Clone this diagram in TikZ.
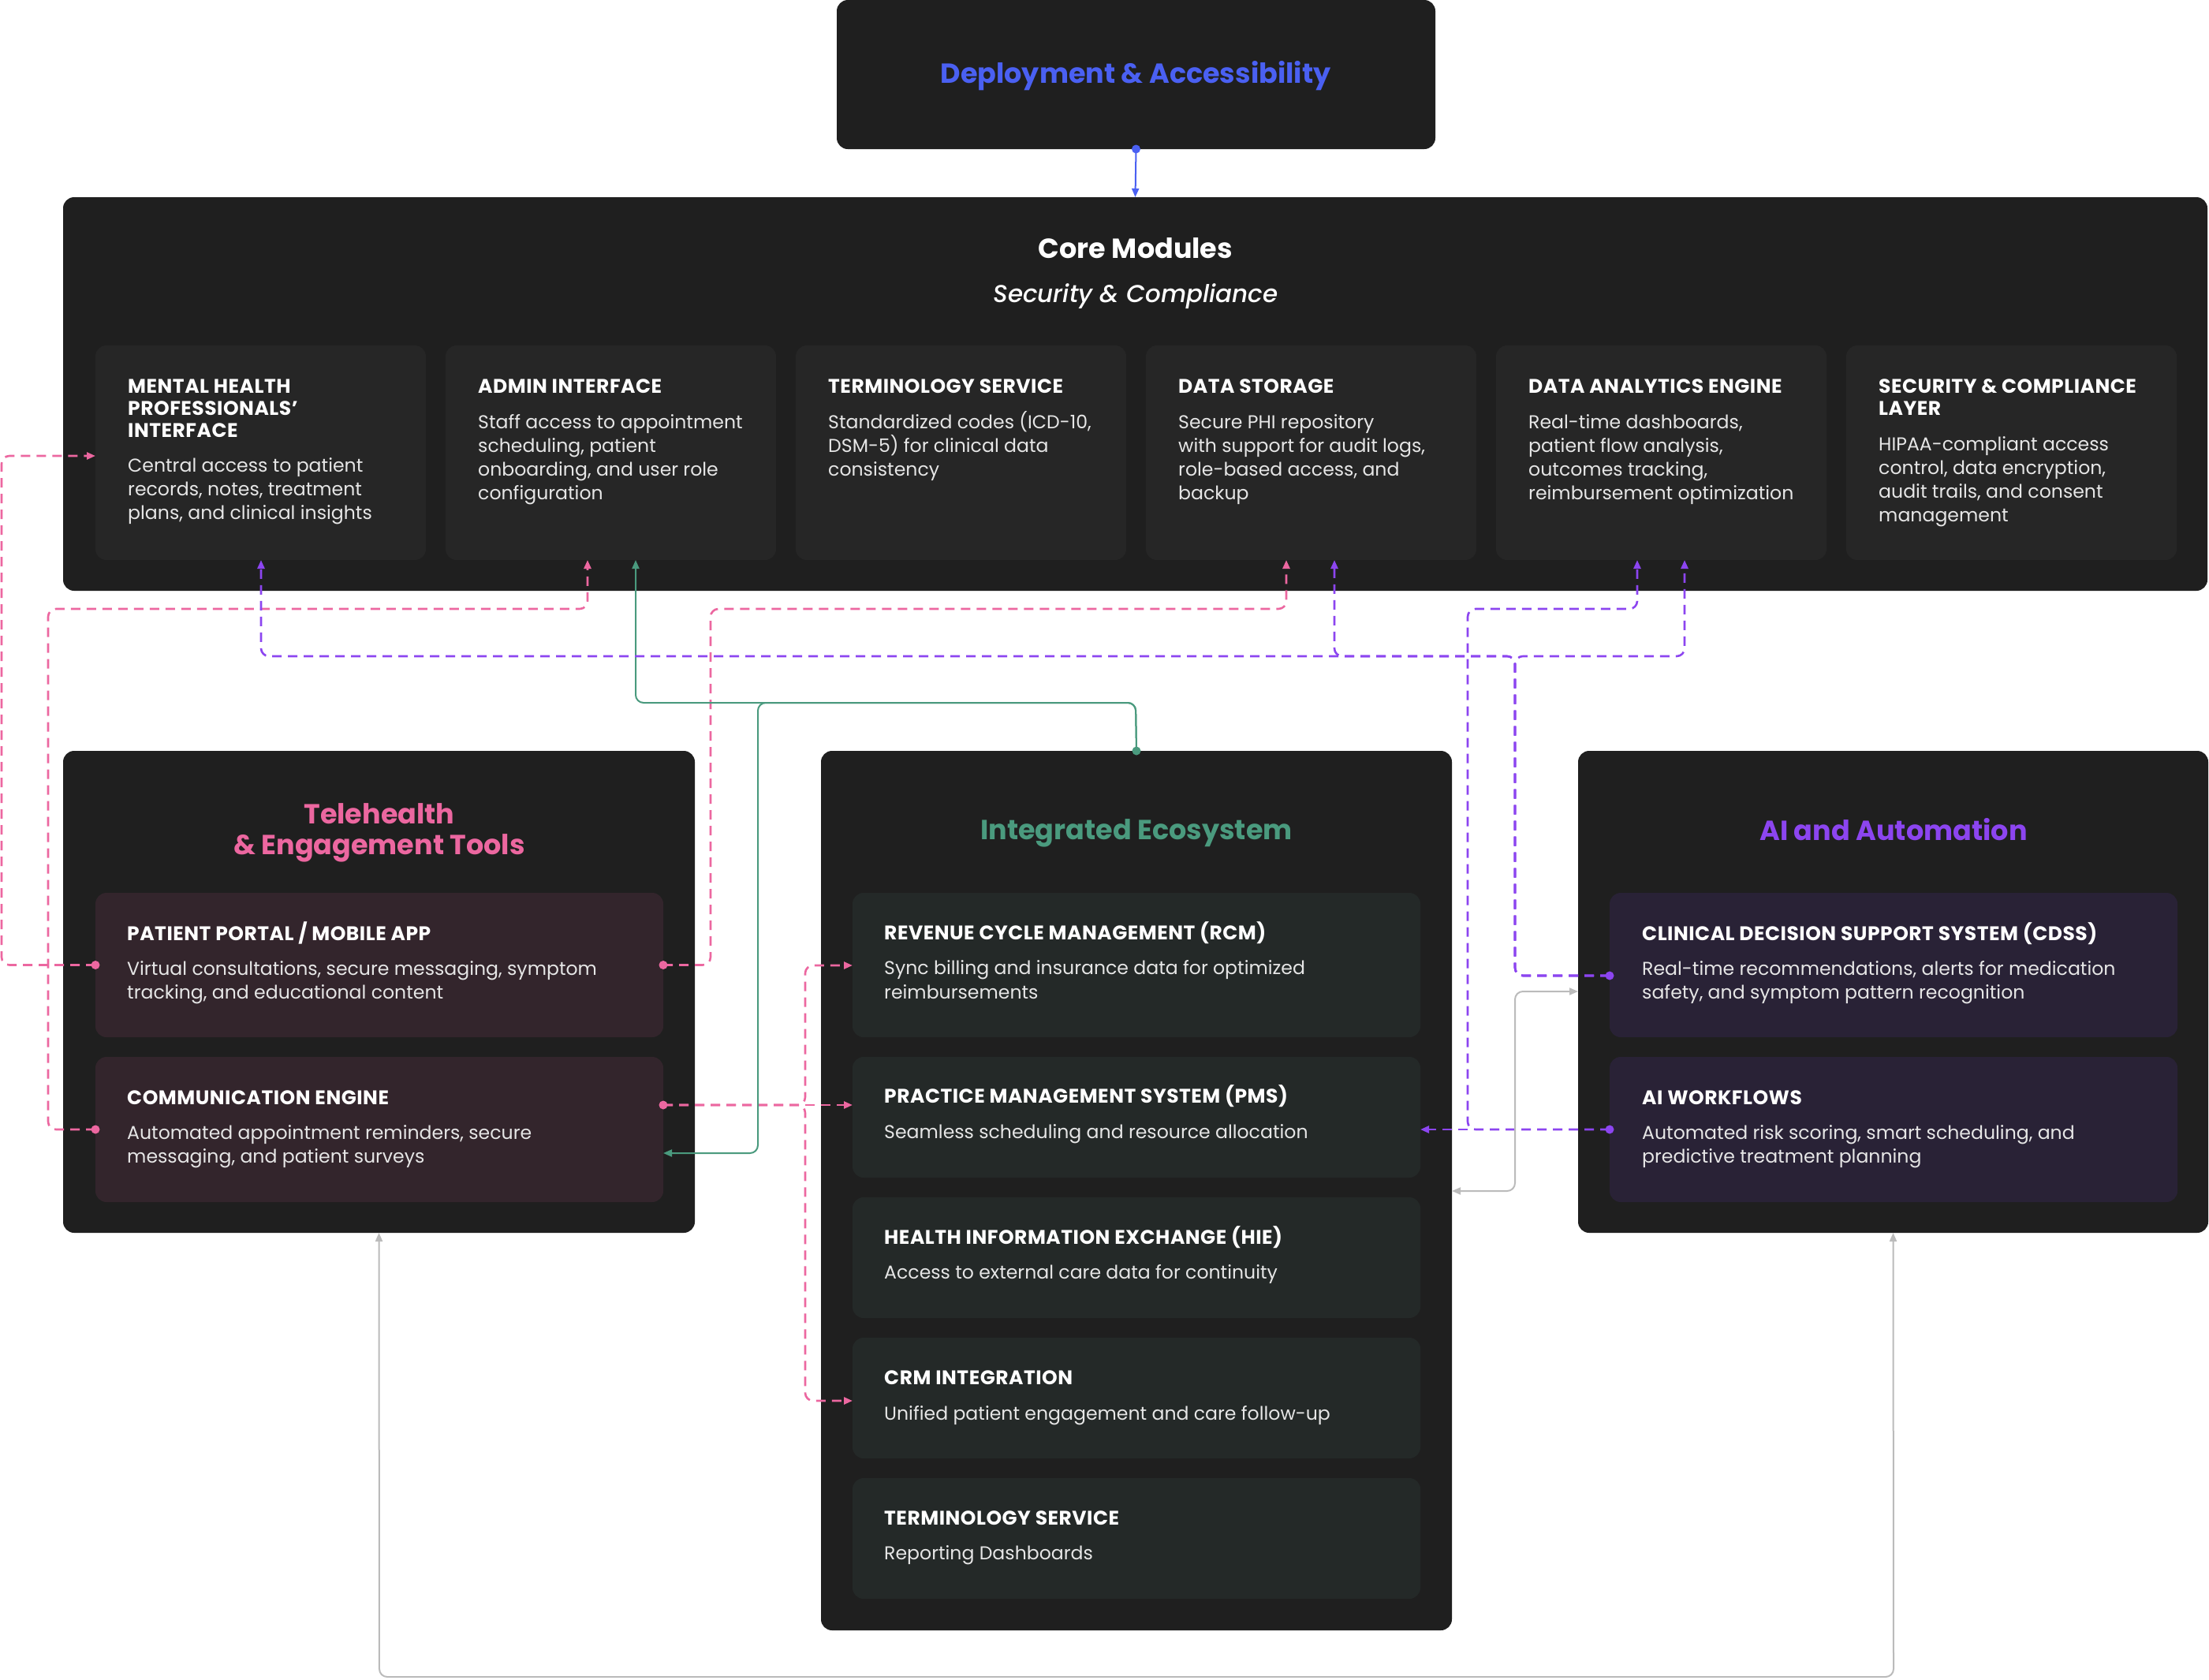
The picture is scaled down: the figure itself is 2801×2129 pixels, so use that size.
\documentclass[tikz,border=0pt]{standalone}
\usepackage{fontspec}
\setmainfont{Poppins}
\newfontfamily\pmedit{Poppins Medium Italic}
\usetikzlibrary{arrows.meta}
\definecolor{panelbg}{HTML}{1F1F1F}
\definecolor{corecard}{HTML}{262626}
\definecolor{telecard}{HTML}{33252C}
\definecolor{ecocard}{HTML}{242928}
\definecolor{aicard}{HTML}{292236}
\definecolor{cblue}{HTML}{4A60F2}
\definecolor{cpink}{HTML}{EC67A0}
\definecolor{cgreen}{HTML}{4A9A7E}
\definecolor{cpurple}{HTML}{8C45F0}
\definecolor{cgray}{HTML}{BBBBBB}
\definecolor{desctext}{HTML}{E6E6E6}
\newcommand\textblock[6]{%
  \foreach \l [count=\i from 0] in {#6} {
    \node[#5, anchor=base west] (#1-\i) at (#2, #3+\i*#4) {\l};
  }}
\tikzset{
  panel/.style={fill=panelbg, rounded corners=14pt, inner sep=0, outer sep=0, anchor=north west},
  card/.style={rounded corners=14pt, inner sep=0, outer sep=0, anchor=north west},
  corehead/.style={font=\bfseries\addfontfeatures{LetterSpace=2}\fontsize{25}{28}\selectfont, text=white, inner sep=0},
  coredesc/.style={font=\fontsize{23.6}{30}\selectfont, text=desctext, inner sep=0},
  lowhead/.style={font=\bfseries\addfontfeatures{LetterSpace=2}\fontsize{25}{28}\selectfont, text=white, inner sep=0},
  lowdesc/.style={font=\fontsize{23.6}{30}\selectfont, text=desctext, inner sep=0},
  title/.style={font=\bfseries\fontsize{35}{40}\selectfont, inner sep=0, anchor=base},
  conn/.style={line width=2pt, rounded corners=10pt},
  dashline/.style={conn, line width=2.6pt, dash pattern=on 12pt off 8pt},
  tip/.style={-{Triangle[length=11pt,width=9pt]}},
  dtip/.style={{Triangle[length=11pt,width=9pt]}-{Triangle[length=11pt,width=9pt]}},
}
\begin{document}
\begin{tikzpicture}[x=1pt,y=-1pt]
\useasboundingbox[fill=white] (0,0) rectangle (2801,2129);
% panels
\node[panel, minimum width=759pt, minimum height=189pt] (deploy) at (1061,0) {};
\node[panel, minimum width=2719pt, minimum height=499pt] (core) at (80,250) {};
\node[panel, minimum width=801pt, minimum height=611pt] (tele) at (80,952) {};
\node[panel, minimum width=800pt, minimum height=1115pt] (eco) at (1041,952) {};
\node[panel, minimum width=799pt, minimum height=611pt] (ai) at (2001,952) {};
% titles
\node[title, text=cblue] (tdeploy) at (1440,105) {Deployment \& Accessibility};
\node[title, text=white] (tcore) at (1440,327) {Core Modules};
\node[font=\pmedit\fontsize{31}{38}\selectfont, text=white, inner sep=0, anchor=base] (tcore2) at (1440,383) {Security \& Compliance};
\node[title, text=cpink] (ttele1) at (481,1044) {Telehealth};
\node[title, text=cpink] (ttele2) at (481,1083) {\& Engagement Tools};
\node[title, text=cgreen] (teco) at (1441,1064) {Integrated Ecosystem};
\node[title, text=cpurple] (tai) at (2401,1065) {AI and Automation};
% core cards
\foreach \n/\x in {c1/121,c2/565,c3/1009,c4/1453,c5/1897,c6/2341}
  \node[card, fill=corecard, minimum width=419pt, minimum height=272pt] (\n) at (\x,438) {};
\textblock{h1}{162}{498}{28}{corehead}{{MENTAL HEALTH},{PROFESSIONALS’},{INTERFACE}}
\textblock{d1}{162}{598}{30}{coredesc}{{Central access to patient},{records, notes, treatment},{plans, and clinical insights}}
\textblock{h2}{606}{498}{28}{corehead}{{ADMIN INTERFACE}}
\textblock{d2}{606}{543}{30}{coredesc}{{Staff access to appointment},{scheduling, patient},{onboarding, and user role},{configuration}}
\textblock{h3}{1050}{498}{28}{corehead}{{TERMINOLOGY SERVICE}}
\textblock{d3}{1050}{543}{30}{coredesc}{{Standardized codes (ICD-10,},{DSM-5) for clinical data},{consistency}}
\textblock{h4}{1494}{498}{28}{corehead}{{DATA STORAGE}}
\textblock{d4}{1494}{543}{30}{coredesc}{{Secure PHI repository},{with support for audit logs,},{role-based access, and},{backup}}
\textblock{h5}{1938}{498}{28}{corehead}{{DATA ANALYTICS ENGINE}}
\textblock{d5}{1938}{543}{30}{coredesc}{{Real-time dashboards,},{patient flow analysis,},{outcomes tracking,},{reimbursement optimization}}
\textblock{h6}{2382}{498}{28}{corehead}{{SECURITY \& COMPLIANCE},{LAYER}}
\textblock{d6}{2382}{571}{30}{coredesc}{{HIPAA-compliant access},{control, data encryption,},{audit trails, and consent},{management}}
% tele cards
\node[card, fill=telecard, minimum width=720pt, minimum height=183pt] (pp) at (121,1132) {};
\node[card, fill=telecard, minimum width=720pt, minimum height=184pt] (ce) at (121,1340) {};
\textblock{hpp}{161}{1192}{28}{lowhead}{{PATIENT PORTAL / MOBILE APP}}
\textblock{dpp}{161}{1236}{30}{lowdesc}{{Virtual consultations, secure messaging, symptom},{tracking, and educational content}}
\textblock{hce}{161}{1400}{28}{lowhead}{{COMMUNICATION ENGINE}}
\textblock{dce}{161}{1444}{30}{lowdesc}{{Automated appointment reminders, secure},{messaging, and patient surveys}}
% eco cards
\node[card, fill=ecocard, minimum width=720pt, minimum height=183pt] (rcm) at (1081,1132) {};
\node[card, fill=ecocard, minimum width=720pt, minimum height=153pt] (pms) at (1081,1340) {};
\node[card, fill=ecocard, minimum width=720pt, minimum height=153pt] (hie) at (1081,1518) {};
\node[card, fill=ecocard, minimum width=720pt, minimum height=153pt] (crm) at (1081,1696) {};
\node[card, fill=ecocard, minimum width=720pt, minimum height=153pt] (term) at (1081,1874) {};
\textblock{hrcm}{1121}{1191}{28}{lowhead}{{REVENUE CYCLE MANAGEMENT (RCM)}}
\textblock{drcm}{1121}{1235}{31}{lowdesc}{{Sync billing and insurance data for optimized},{reimbursements}}
\textblock{hpms}{1121}{1398}{28}{lowhead}{{PRACTICE MANAGEMENT SYSTEM (PMS)}}
\textblock{dpms}{1121}{1443}{30}{lowdesc}{{Seamless scheduling and resource allocation}}
\textblock{hhie}{1121}{1577}{28}{lowhead}{{HEALTH INFORMATION EXCHANGE (HIE)}}
\textblock{dhie}{1121}{1621}{30}{lowdesc}{{Access to external care data for continuity}}
\textblock{hcrm}{1121}{1755}{28}{lowhead}{{CRM INTEGRATION}}
\textblock{dcrm}{1121}{1800}{30}{lowdesc}{{Unified patient engagement and care follow-up}}
\textblock{hterm}{1121}{1933}{28}{lowhead}{{TERMINOLOGY SERVICE}}
\textblock{dterm}{1121}{1977}{30}{lowdesc}{{Reporting Dashboards}}
% ai cards
\node[card, fill=aicard, minimum width=720pt, minimum height=183pt] (cdss) at (2041,1132) {};
\node[card, fill=aicard, minimum width=720pt, minimum height=184pt] (aiw) at (2041,1340) {};
\textblock{hcdss}{2082}{1192}{28}{lowhead}{{CLINICAL DECISION SUPPORT SYSTEM (CDSS)}}
\textblock{dcdss}{2082}{1236}{30}{lowdesc}{{Real-time recommendations, alerts for medication},{safety, and symptom pattern recognition}}
\textblock{haiw}{2082}{1400}{28}{lowhead}{{AI WORKFLOWS}}
\textblock{daiw}{2082}{1444}{30}{lowdesc}{{Automated risk scoring, smart scheduling, and},{predictive treatment planning}}
% connector anchor points
\coordinate (ceR) at (841,1401);
\coordinate (ceG) at (841,1462);
\coordinate (cdssL) at (2041,1237);
\coordinate (aiwL) at (2041,1432);
\coordinate (c1L) at (121,578);
% blue
\draw[conn, cblue, tip] (deploy.south) -- (core.north);
\fill[cblue] (deploy.south) circle (5.5pt);
% pink
\draw[dashline, cpink, tip] (pp.west) -- (2,0 |- pp.west) -- (2,0 |- c1L) -- (c1L);
\draw[dashline, cpink, tip] (ce.west) -- (61,0 |- ce.west) -- (61,772) -- (745,772) -- (745,0 |- c2.south);
\draw[dashline, cpink, tip] (pp.east) -- (901,0 |- pp.east) -- (901,772) -- (1631,772) -- (1631,0 |- c4.south);
\draw[dashline, cpink, tip] (ceR) -- (pms.west |- ceR);
\draw[dashline, cpink, tip] (ceR) -- (1021,1401) -- (1021,1224) -- (rcm.west |- 0,1224);
\draw[dashline, cpink, tip] (ceR) -- (1021,1401) -- (1021,1776) -- (crm.west |- 0,1776);
\foreach \p in {pp.west, pp.east, ce.west, ceR} \fill[cpink] (\p) circle (5.5pt);
% green
\draw[conn, cgreen, tip] (eco.north) -- (1440,891) -- (806,891) -- (806,0 |- c2.south);
\draw[conn, cgreen, tip] (eco.north) -- (1440,891) -- (961,891) -- (961,1462) -- (ceG);
\fill[cgreen] (eco.north) circle (5.5pt);
% purple
\draw[dashline, cpurple, tip] (cdssL) -- (1921,1237) -- (1921,832) -- (331,832) -- (331,0 |- c1.south);
\draw[dashline, cpurple, tip] (cdssL) -- (1921,1237) -- (1921,832) -- (1692,832) -- (1692,0 |- c4.south);
\draw[dashline, cpurple, tip] (cdssL) -- (1921,1237) -- (1921,832) -- (2136,832) -- (2136,0 |- c5.south);
\draw[dashline, cpurple, tip] (aiwL) -- (pms.east |- aiwL);
\draw[dashline, cpurple, tip] (aiwL) -- (1861,1432) -- (1861,772) -- (2076,772) -- (2076,0 |- c5.south);
\foreach \p in {cdssL, aiwL} \fill[cpurple] (\p) circle (5.5pt);
% gray
\draw[conn, cgray, dtip] (eco.east |- 0,1510) -- (1921,1510) -- (1921,1257) -- (ai.west |- 0,1257);
\draw[conn, cgray, dtip] (tele.south) -- (481,2126) -- (2401,2126) -- (ai.south);
\end{tikzpicture}
\end{document}
